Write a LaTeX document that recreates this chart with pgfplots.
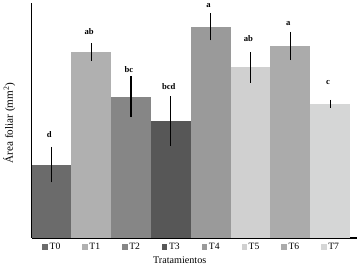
\documentclass[border=0pt]{standalone}
\usepackage{fontspec}
\setmainfont{Liberation Serif}
\usepackage{pgfplots}
\pgfplotsset{compat=1.18}
\definecolor{c0}{HTML}{6B6B6B}
\definecolor{c1}{HTML}{B0B0B0}
\definecolor{c2}{HTML}{868686}
\definecolor{c3}{HTML}{575757}
\definecolor{c4}{HTML}{9A9A9A}
\definecolor{c5}{HTML}{D0D0D0}
\definecolor{c6}{HTML}{ABABAB}
\definecolor{c7}{HTML}{D5D6D6}
\newcommand{\sq}[1]{\textcolor{#1}{\rule{5.5pt}{5.5pt}}\,}
\begin{document}
\begin{tikzpicture}
\begin{axis}[
  scale only axis, width=321pt, height=231pt,
  xmin=-0.5, xmax=7.68, ymin=0, ymax=231,
  axis x line=bottom, axis y line=left,
  axis line style={-, line width=1.6pt},
  ytick=\empty,
  xtick={0,...,7},
  xticklabels={\sq{c0}T0,\sq{c1}T1,\sq{c2}T2,\sq{c3}T3,\sq{c4}T4,\sq{c5}T5,\sq{c6}T6,\sq{c7}T7},
  major tick length=0pt,
  xticklabel style={font=\fontsize{9.5}{10}\selectfont, anchor=center, yshift=-8.5pt},
  xlabel={Tratamientos},
  xlabel style={font=\fontsize{10}{11}\selectfont, at={(axis description cs:0.455,-0.095)}, anchor=center},
  ylabel={Área foliar (mm\textsuperscript{2})},
  ylabel style={font=\fontsize{11}{12}\selectfont, at={(axis description cs:-0.068,0.49)}, anchor=center},
  ybar, bar width=1, bar shift=0pt,
  clip=false,
  every axis plot/.append style={draw=none,
    error bars/y dir=both, error bars/y explicit, error bars/error mark=none,
    error bars/error bar style={line width=1.1pt, black}},
]
\addplot[fill=c0] coordinates {(0,72) +- (0,17.5)};
\addplot[fill=c1] coordinates {(1,183) +- (0,8.5)};
\addplot[fill=c2] coordinates {(2,139) +- (0,20)};
\addplot[fill=c3] coordinates {(3,115) +- (0,24.5)};
\addplot[fill=c4] coordinates {(4,208) +- (0,13.5)};
\addplot[fill=c5] coordinates {(5,168) +- (0,15)};
\addplot[fill=c6] coordinates {(6,189) +- (0,14)};
\addplot[fill=c7] coordinates {(7,132) +- (0,4)};
\begin{scope}[every node/.style={font=\fontsize{8.5}{9}\selectfont\bfseries, xshift=-2pt}]
\node at (axis cs:0,102) {d};
\node at (axis cs:1,203) {ab};
\node at (axis cs:2,166) {bc};
\node at (axis cs:3,149) {bcd};
\node at (axis cs:4,229) {a};
\node at (axis cs:5,196) {ab};
\node at (axis cs:6,211) {a};
\node at (axis cs:7,153) {c};
\end{scope}
\end{axis}
\end{tikzpicture}
\end{document}
